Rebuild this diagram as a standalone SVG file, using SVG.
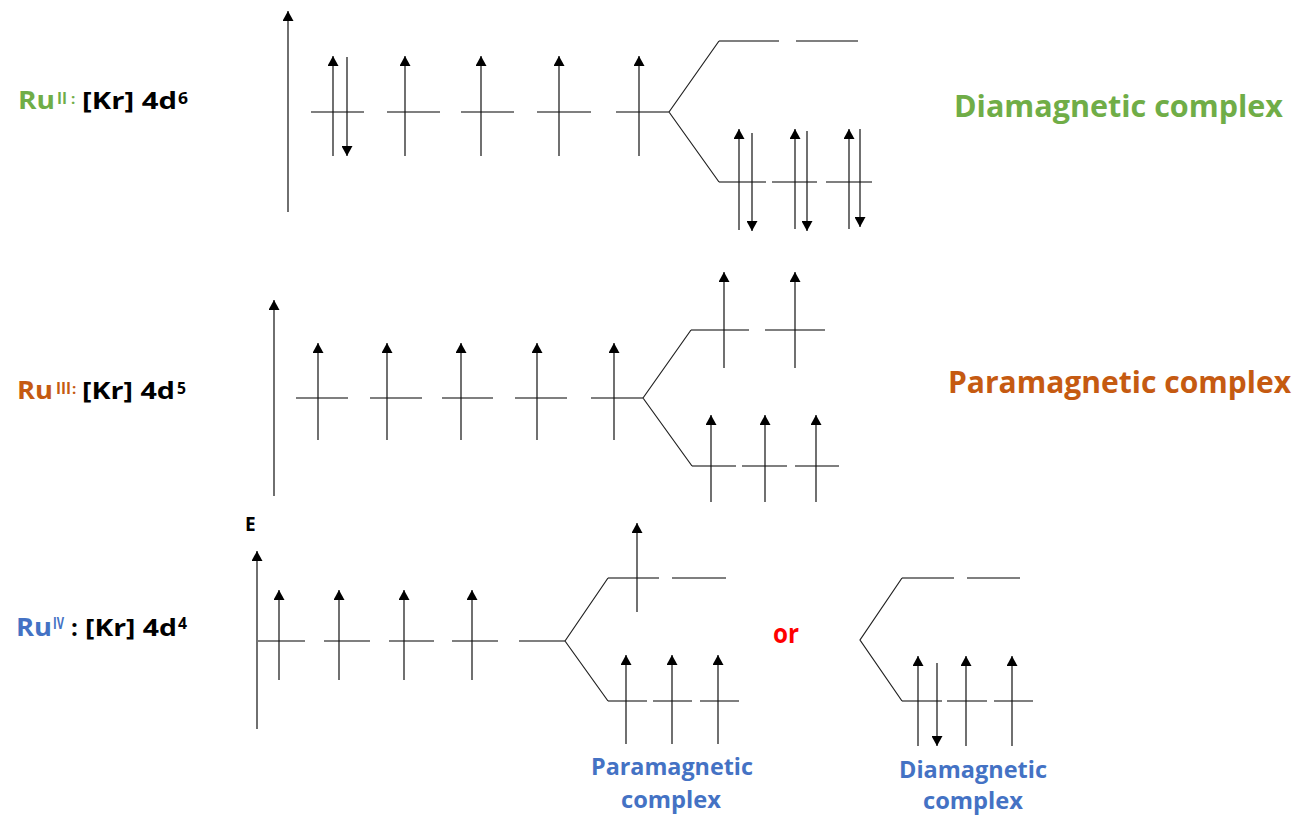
<svg xmlns="http://www.w3.org/2000/svg" width="1304" height="816" viewBox="0 0 1304 816">
<defs>
<marker id="ah" viewBox="0 0 10 11" refX="10" refY="5.5" markerWidth="10" markerHeight="11" markerUnits="userSpaceOnUse" orient="auto">
<path d="M0,0 L10,5.5 L0,11 z" fill="#000"/>
</marker>
<style>
.lv{stroke:#555;stroke-width:1.4;fill:none}
.ar{stroke:#111;stroke-width:1.2;fill:none;marker-end:url(#ah)}
.ax{stroke:#222;stroke-width:1.3;fill:none;marker-end:url(#ah)}
.sp{stroke:#222;stroke-width:1.2;fill:none}
.t{font-family:"Open Sans","Liberation Sans",sans-serif;font-weight:bold}
.g{fill:#70AD47}.o{fill:#C55A11}.b{fill:#4472C4}.k{fill:#000}.r{fill:#FF0000}
</style>
</defs>
<rect width="1304" height="816" fill="#fff"/>

<!-- Labels -->
<g id="label-ru2">
<text class="t g" x="18" y="109" font-size="25" textLength="37" lengthAdjust="spacingAndGlyphs">Ru</text>
<text class="t g" x="57" y="104" font-size="16" textLength="10" lengthAdjust="spacingAndGlyphs">II</text>
<text class="t g" x="71" y="104" font-size="15">:</text>
<text class="t k" x="82" y="109" font-size="24" textLength="95" lengthAdjust="spacingAndGlyphs">[Kr] 4d</text>
<text class="t k" x="178" y="104" font-size="16" textLength="10" lengthAdjust="spacingAndGlyphs">6</text>
</g>
<g id="label-ru3">
<text class="t o" x="17" y="399" font-size="25" textLength="36" lengthAdjust="spacingAndGlyphs">Ru</text>
<text class="t o" x="56" y="394" font-size="16" textLength="15" lengthAdjust="spacingAndGlyphs">III</text>
<text class="t o" x="72" y="394" font-size="15">:</text>
<text class="t k" x="82" y="399" font-size="24" textLength="93" lengthAdjust="spacingAndGlyphs">[Kr] 4d</text>
<text class="t k" x="177" y="394" font-size="16" textLength="9" lengthAdjust="spacingAndGlyphs">5</text>
</g>
<g id="label-ru4">
<text class="t b" x="16" y="636" font-size="25" textLength="36" lengthAdjust="spacingAndGlyphs">Ru</text>
<text class="t b" x="53" y="629" font-size="16" textLength="11" lengthAdjust="spacingAndGlyphs">IV</text>
<text class="t k" x="71" y="636" font-size="24">:</text>
<text class="t k" x="85" y="636" font-size="24" textLength="92" lengthAdjust="spacingAndGlyphs">[Kr] 4d</text>
<text class="t k" x="178" y="629" font-size="16" textLength="9" lengthAdjust="spacingAndGlyphs">4</text>
</g>
<g id="label-diamagnetic">
<text class="t g" x="954" y="117" font-size="31" textLength="329" lengthAdjust="spacingAndGlyphs">Diamagnetic complex</text>
</g>
<g id="label-paramagnetic">
<text class="t o" x="948" y="393" font-size="30" textLength="343" lengthAdjust="spacingAndGlyphs">Paramagnetic complex</text>
</g>
<g id="label-E">
<text class="t k" x="245" y="531" font-size="19">E</text>
</g>
<g id="label-or">
<text class="t r" x="773" y="643" font-size="26" textLength="26" lengthAdjust="spacingAndGlyphs">or</text>
</g>
<g id="label-para-bottom">
<text class="t b" x="591" y="775" font-size="24" textLength="162" lengthAdjust="spacingAndGlyphs">Paramagnetic</text>
<text class="t b" x="621" y="808" font-size="24" textLength="100" lengthAdjust="spacingAndGlyphs">complex</text>
</g>
<g id="label-dia-bottom">
<text class="t b" x="899" y="778" font-size="24" textLength="148" lengthAdjust="spacingAndGlyphs">Diamagnetic</text>
<text class="t b" x="923" y="809" font-size="24" textLength="100" lengthAdjust="spacingAndGlyphs">complex</text>
</g>

<!-- Ru(II) diagram -->
<g id="ru2-diagram">
<line class="ax" x1="288" y1="212" x2="288" y2="11"/>
<path class="lv" d="M311,112H364M387,112H440M461,112H514M537,112H591M616,112H669"/>
<line class="ar" x1="333" y1="156" x2="333" y2="56"/>
<line class="ar" x1="347" y1="57" x2="347" y2="156"/>
<line class="ar" x1="405" y1="156" x2="405" y2="56"/>
<line class="ar" x1="481" y1="156" x2="481" y2="56"/>
<line class="ar" x1="559" y1="156" x2="559" y2="56"/>
<line class="ar" x1="639" y1="156" x2="639" y2="56"/>
<path class="lv" d="M719,41H779M796,41H858"/>
<path class="lv" d="M719,182H766M772,182H817M826,182H872"/>
<line class="ar" x1="739" y1="230" x2="739" y2="129"/>
<line class="ar" x1="752" y1="133" x2="752" y2="231"/>
<line class="ar" x1="795" y1="229" x2="795" y2="129"/>
<line class="ar" x1="807" y1="131" x2="807" y2="231"/>
<line class="ar" x1="849" y1="229" x2="849" y2="129"/>
<line class="ar" x1="860" y1="129" x2="860" y2="227"/>
</g>

<!-- Ru(III) diagram -->
<g id="ru3-diagram">
<line class="ax" x1="274" y1="496" x2="274" y2="300"/>
<path class="lv" d="M296,398H348M370,398H422M442,398H493M515,398H567M591,398H643"/>
<line class="ar" x1="318" y1="440" x2="318" y2="343"/>
<line class="ar" x1="387" y1="440" x2="387" y2="343"/>
<line class="ar" x1="461" y1="440" x2="461" y2="343"/>
<line class="ar" x1="537" y1="440" x2="537" y2="343"/>
<line class="ar" x1="614" y1="440" x2="614" y2="343"/>
<path class="lv" d="M691,330H749M765,330H825"/>
<line class="ar" x1="724" y1="368" x2="724" y2="272"/>
<line class="ar" x1="795" y1="368" x2="795" y2="272"/>
<path class="lv" d="M692,466H736M742,466H787M795,466H839"/>
<line class="ar" x1="711" y1="502" x2="711" y2="415"/>
<line class="ar" x1="765" y1="502" x2="765" y2="415"/>
<line class="ar" x1="816" y1="502" x2="816" y2="415"/>
</g>

<!-- Ru(IV) diagram -->
<g id="ru4-diagram">
<line class="ax" x1="257" y1="729" x2="257" y2="551"/>
<path class="lv" d="M258,641H305M324,641H370M389,641H434M452,641H498M519,641H565"/>
<line class="ar" x1="279" y1="680" x2="279" y2="590"/>
<line class="ar" x1="339" y1="680" x2="339" y2="590"/>
<line class="ar" x1="404" y1="680" x2="404" y2="590"/>
<line class="ar" x1="472" y1="680" x2="472" y2="590"/>
</g>
<g id="ru4-para">
<path class="lv" d="M608,578H659M672,578H726"/>
<line class="ar" x1="637" y1="612" x2="637" y2="523"/>
<path class="lv" d="M608,701H647M653,701H692M700,701H739"/>
<line class="ar" x1="626" y1="744" x2="626" y2="655"/>
<line class="ar" x1="672" y1="744" x2="672" y2="655"/>
<line class="ar" x1="718" y1="744" x2="718" y2="655"/>
</g>
<g id="ru4-dia">
<path class="lv" d="M902,578H954M967,578H1020"/>
<path class="lv" d="M902,701H942M947,701H987M994,701H1033"/>
<line class="ar" x1="918" y1="746" x2="918" y2="656"/>
<line class="ar" x1="937" y1="663" x2="937" y2="746"/>
<line class="ar" x1="966" y1="746" x2="966" y2="656"/>
<line class="ar" x1="1012" y1="746" x2="1012" y2="656"/>
</g>

<!-- Splitting connectors -->
<g id="connectors">
<path class="sp" d="M669,112L719,41M669,112L719,182"/>
<path class="sp" d="M643,398L691,330M643,398L692,466"/>
<path class="sp" d="M565,641L608,578M565,641L608,701"/>
<path class="sp" d="M902,578L860,640L902,701"/>
</g>
</svg>
